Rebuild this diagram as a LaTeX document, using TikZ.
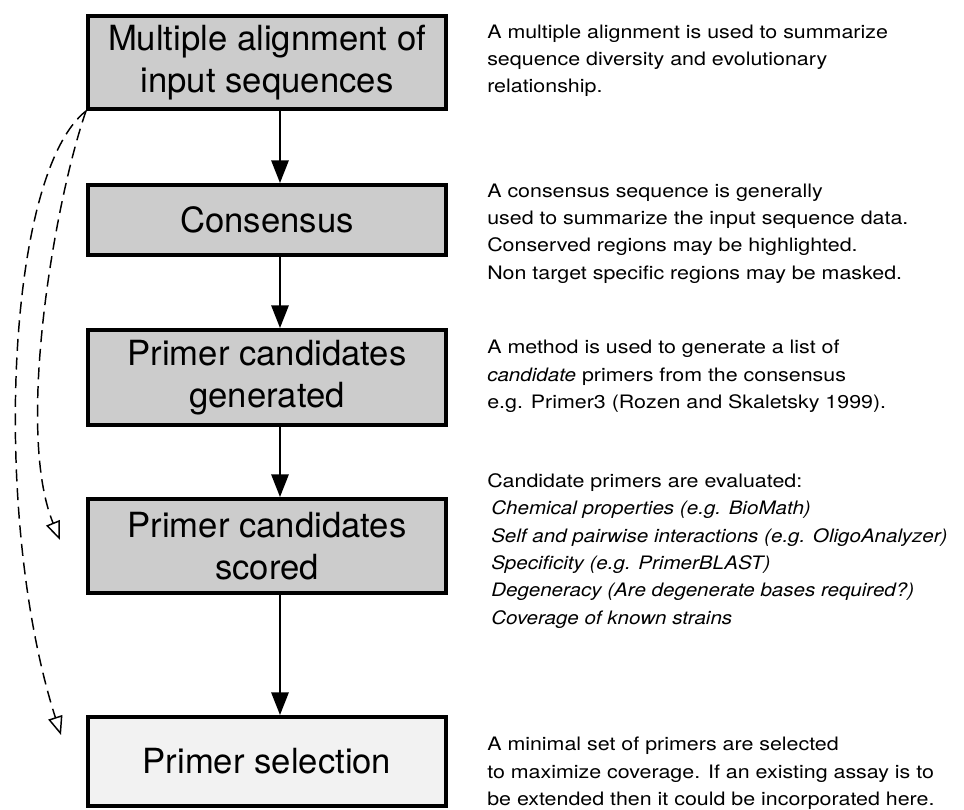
\documentclass[tikz,border=0pt]{standalone}
\usepackage{fontspec}
\setmainfont{TeX Gyre Heros}
\newfontfamily\notefont[FakeStretch=1.155,ItalicFeatures={FakeStretch=1.11}]{TeX Gyre Heros}
\usetikzlibrary{arrows.meta}
\begin{document}
\begin{tikzpicture}[x=.75pt,y=-.75pt,
  stage/.style={draw,line width=3pt,fill=gray!40,minimum width=268.5pt,inner sep=0pt,align=center,font=\fontsize{26}{31.5}\selectfont},
  note/.style={anchor=north west,inner sep=0pt,align=left,font=\notefont\fontsize{13.9}{20.5}\selectfont},
  flow/.style={line width=1.5pt,-{Triangle[length=17pt,width=13pt]}},
  back/.style={line width=1.1pt,dash pattern=on 9pt off 5pt,-{Triangle[open,length=14pt,width=11pt,line width=1.1pt]}}]
\useasboundingbox (0,0) rectangle (964,810);
% stages of the workflow
\node[stage,minimum height=69.75pt] (align) at (267,62.5) {Multiple alignment of\\input sequences};
\node[stage,minimum height=52.5pt] (cons) at (267,220) {Consensus};
\node[stage,minimum height=71.25pt] (gen) at (267,377.5) {Primer candidates\\generated};
\node[stage,minimum height=70.5pt] (score) at (267,546) {Primer candidates\\scored};
\node[stage,minimum height=66.75pt,fill=gray!10] (sel) at (267,761.5) {Primer selection};
\draw[flow] ([xshift=9.75pt]align.south) -- ([xshift=9.75pt]cons.north);
\draw[flow] ([xshift=9.75pt]cons.south) -- ([xshift=9.75pt]gen.north);
\draw[flow] ([xshift=9.75pt]gen.south) -- ([xshift=9.75pt]score.north);
\draw[flow] ([xshift=9.75pt]score.south) -- ([xshift=9.75pt]sel.north);
% shortcuts from the alignment
\coordinate (skip1) at (60,540); \coordinate (skip2) at (61,735);
\draw[back] (align.south west) .. controls (55,200) and (15,430) .. (skip1);
\draw[back] (align.south west) .. controls (5,175) and (-8,520) .. (skip2);
% notes
\node[note] (n1) at (487,24.5) {A multiple alignment is used to summarize\\sequence diversity and evolutionary\\relationship.};
\node[note] (n2) at (487,183.5) {A consensus sequence is generally\\used to summarize the input sequence data.\\Conserved regions may be highlighted.\\Non target specific regions may be masked.};
\node[note] (n3) at (487,340) {A method is used to generate a list of\\\textit{candidate} primers from the consensus\\e.g. Primer3 (Rozen and Skaletsky 1999).};
\node[note] (n4) at (487,473.5) {Candidate primers are evaluated:\\\hspace*{3pt}\textit{Chemical properties (e.g. BioMath)}\\\hspace*{3pt}\textit{Self and pairwise interactions (e.g. OligoAnalyzer)}\\\hspace*{3pt}\textit{Specificity (e.g. PrimerBLAST)}\\\hspace*{3pt}\textit{Degeneracy (Are degenerate bases required?)}\\\hspace*{3pt}\textit{Coverage of known strains}};
\node[note] (n5) at (487,737) {A minimal set of primers are selected\\to maximize coverage. If an existing assay is to\\be extended then it could be incorporated here.};
\end{tikzpicture}
\end{document}
